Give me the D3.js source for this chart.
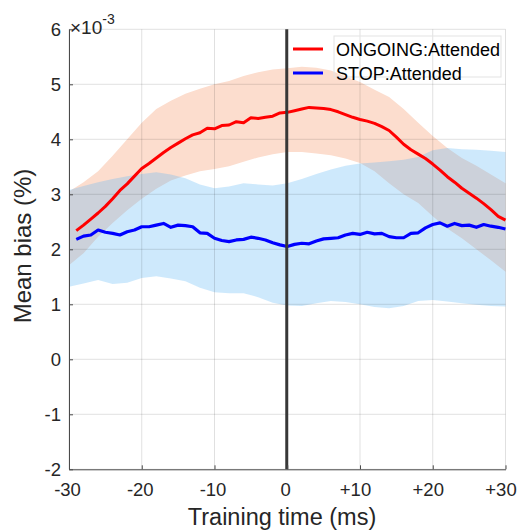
<!DOCTYPE html>
<html>
<head>
<meta charset="utf-8">
<script src="https://cdn.jsdelivr.net/npm/d3@7/dist/d3.min.js"></script>
<style>
  html, body { margin: 0; padding: 0; background: #fff; }
  svg text { font-family: "Liberation Sans", Arial, Helvetica, sans-serif; }
</style>
</head>
<body>
<svg id="chart" width="518" height="531"></svg>
<script>
// Mean bias (×10^-3 %) as a function of training time, two conditions.
const lineTime = d3.range(-29, 31);            // ms, 1 ms resolution
const ongoingMean = [
  2.34, 2.44, 2.55, 2.66, 2.78, 2.92, 3.07, 3.19, 3.33, 3.47,
  3.56, 3.66, 3.76, 3.85, 3.93, 4.01, 4.08, 4.12, 4.20, 4.19,
  4.25, 4.26, 4.32, 4.30, 4.39, 4.38, 4.40, 4.42, 4.48, 4.49,
  4.52, 4.55, 4.58, 4.57, 4.56, 4.54, 4.50, 4.45, 4.40, 4.36,
  4.33, 4.29, 4.23, 4.16, 4.04, 3.91, 3.81, 3.73, 3.65, 3.55,
  3.44, 3.32, 3.22, 3.11, 3.02, 2.93, 2.83, 2.72, 2.60, 2.53
];
const stopMean = [
  2.18, 2.24, 2.26, 2.35, 2.31, 2.29, 2.26, 2.32, 2.35, 2.41,
  2.41, 2.44, 2.47, 2.40, 2.44, 2.43, 2.41, 2.30, 2.29, 2.20,
  2.16, 2.14, 2.17, 2.18, 2.22, 2.20, 2.17, 2.12, 2.08, 2.05,
  2.09, 2.11, 2.10, 2.15, 2.19, 2.20, 2.21, 2.26, 2.29, 2.27,
  2.31, 2.28, 2.29, 2.23, 2.21, 2.21, 2.29, 2.30, 2.39, 2.45,
  2.48, 2.42, 2.47, 2.43, 2.44, 2.40, 2.45, 2.42, 2.40, 2.37
];

// Confidence bands, 2 ms resolution
const bandTime = d3.range(-30, 31, 2);
const ongoingUpper = [
  3.05, 3.22, 3.42, 3.70, 4.00, 4.30, 4.55, 4.70, 4.83, 4.92,
  5.00, 5.06, 5.15, 5.22, 5.27, 5.29, 5.32, 5.30, 5.25, 5.14,
  5.04, 4.90, 4.77, 4.55, 4.30, 4.06, 3.84, 3.66, 3.52, 3.36, 3.20
];
const ongoingLower = [
  1.71, 1.93, 2.23, 2.48, 2.71, 2.92, 3.10, 3.25, 3.34, 3.42,
  3.46, 3.51, 3.59, 3.67, 3.73, 3.77, 3.77, 3.74, 3.71, 3.65,
  3.57, 3.42, 3.20, 3.00, 2.84, 2.60, 2.38, 2.20, 2.00, 1.80, 1.59
];
const stopUpper = [
  3.08, 3.15, 3.22, 3.28, 3.33, 3.37, 3.40, 3.36, 3.29, 3.18,
  3.11, 3.14, 3.20, 3.18, 3.16, 3.20, 3.28, 3.37, 3.45, 3.52,
  3.56, 3.58, 3.60, 3.63, 3.68, 3.80, 3.84, 3.82, 3.81, 3.79, 3.77
];
const stopLower = [
  1.32, 1.38, 1.44, 1.37, 1.39, 1.48, 1.51, 1.47, 1.42, 1.30,
  1.22, 1.20, 1.20, 1.13, 1.03, 0.98, 0.97, 1.02, 1.06, 1.04,
  1.00, 0.95, 0.93, 0.97, 1.06, 1.08, 1.05, 1.02, 0.99, 0.97, 0.96
];

const xTicks = [-30, -20, -10, 0, 10, 20, 30];
const xTickLabels = ["-30", "-20", "-10", "0", "+10", "+20", "+30"];
const yTicks = [-2, -1, 0, 1, 2, 3, 4, 5, 6];
const yTickLabels = ["-2", "-1", "0", "1", "2", "3", "4", "5", "6"];
const seriesNames = ["ONGOING:Attended", "STOP:Attended"];

const margin = { left: 69, right: 12.5, top: 29.3, bottom: 61.7 };
const W = 518, H = 531;
const svg = d3.select("#chart");

const x = d3.scaleLinear().domain([-30, 30]).range([margin.left, W - margin.right]);
const y = d3.scaleLinear().domain([-2, 6]).range([H - margin.bottom, margin.top]);

const band = (lo, hi) => d3.area()
  .x((d, i) => x(bandTime[i]))
  .y0((d, i) => y(lo[i]))
  .y1((d, i) => y(hi[i]))(bandTime);
const line = vals => d3.line()
  .x((d, i) => x(lineTime[i]))
  .y((d, i) => y(vals[i]))(lineTime);

// shaded bands
svg.append("path").attr("d", band(ongoingLower, ongoingUpper))
  .attr("fill", "rgb(252,221,206)");
svg.append("path").attr("d", band(stopLower, stopUpper))
  .attr("fill", "rgb(92,182,245)").attr("fill-opacity", 0.3);

// grid
const grid = svg.append("g").attr("stroke", "#000").attr("stroke-opacity", 0.12).attr("stroke-width", 1);
xTicks.forEach(t => grid.append("line")
  .attr("x1", x(t)).attr("x2", x(t)).attr("y1", y(-2)).attr("y2", y(6)));
yTicks.forEach(t => grid.append("line")
  .attr("x1", x(-30)).attr("x2", x(30)).attr("y1", y(t)).attr("y2", y(t)));

// mean traces
svg.append("path").attr("d", line(ongoingMean))
  .attr("fill", "none").attr("stroke", "#ff0000").attr("stroke-width", 3)
  .attr("stroke-linejoin", "round");
svg.append("path").attr("d", line(stopMean))
  .attr("fill", "none").attr("stroke", "#0000ff").attr("stroke-width", 3.2)
  .attr("stroke-linejoin", "round");

// zero marker
svg.append("line")
  .attr("x1", x(0) - 0.5).attr("x2", x(0) - 0.5).attr("y1", y(-2)).attr("y2", y(6))
  .attr("stroke", "#383838").attr("stroke-width", 3);

// axes
const xAxis = d3.axisBottom(x).tickValues(xTicks)
  .tickFormat((d, i) => xTickLabels[i]).tickSizeInner(-4).tickSizeOuter(0).tickPadding(10);
const gx = svg.append("g").attr("transform", `translate(0,${y(-2)})`).call(xAxis);
const yAxis = d3.axisLeft(y).tickValues(yTicks)
  .tickFormat((d, i) => yTickLabels[i]).tickSizeInner(-4).tickSizeOuter(0).tickPadding(8);
const gy = svg.append("g").attr("transform", `translate(${x(-30)},0)`).call(yAxis);
[gx, gy].forEach(g => {
  g.select(".domain").attr("stroke", "#4a4a4a").attr("stroke-width", 1);
  g.selectAll(".tick line").attr("stroke", "#4a4a4a");
  g.selectAll(".tick text").attr("fill", "#262626")
    .style("font-size", "18.5px");
});
gx.selectAll(".tick text").attr("dy", "0.9em")
  .attr("dx", (d, i) => xTickLabels[i].startsWith("+") ? -5 : -2);

// exponent label
const expo = svg.append("text").attr("x", 70).attr("y", 33.5)
  .attr("fill", "#262626").style("font-size", "19px");
expo.append("tspan").text("×10");
expo.append("tspan").attr("dy", -10).style("font-size", "14px").text("-3");

// axis titles
svg.append("text").attr("x", 282).attr("y", 525)
  .attr("text-anchor", "middle").attr("fill", "#262626")
  .style("font-size", "23.5px").text("Training time (ms)");
svg.append("text")
  .attr("transform", `translate(31,246) rotate(-90)`)
  .attr("text-anchor", "middle").attr("fill", "#262626")
  .style("font-size", "24px").text("Mean bias (%)");

// legend
const legend = svg.append("g");
legend.append("rect").attr("x", 334).attr("y", 36).attr("width", 167).attr("height", 41)
  .attr("fill", "none").attr("stroke", "#e3e3e3").attr("stroke-width", 1);
const legendColors = ["#ff0000", "#0000ff"];
seriesNames.forEach((name, i) => {
  const cy = 49 + i * 24;
  legend.append("line").attr("x1", 293).attr("x2", 323).attr("y1", cy).attr("y2", cy)
    .attr("stroke", legendColors[i]).attr("stroke-width", 3);
  legend.append("text").attr("x", 336).attr("y", cy + 6.5)
    .attr("fill", "#000").style("font-size", "18px").text(name);
});
</script>
</body>
</html>
